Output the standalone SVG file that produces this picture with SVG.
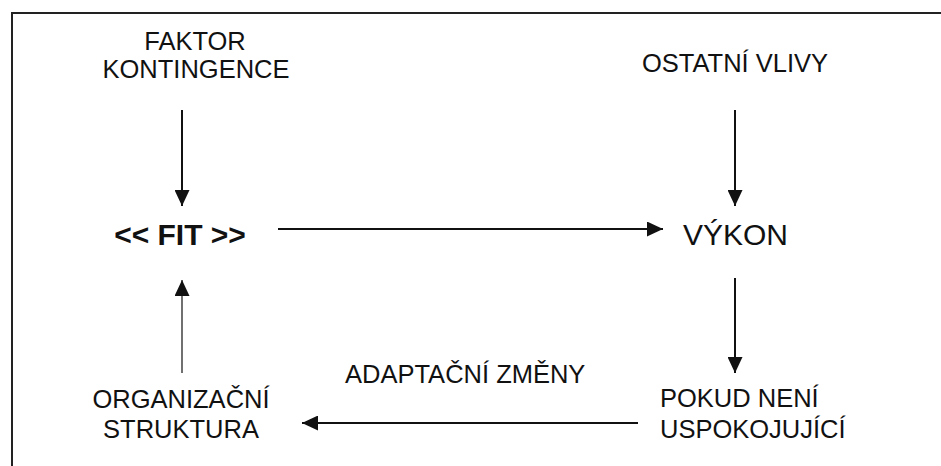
<svg xmlns="http://www.w3.org/2000/svg" width="941" height="466" viewBox="0 0 941 466">
  <style>
    .lbl { font-family: "Liberation Sans", Arial, sans-serif; font-size: 25.5px; fill: #111; }
    .big { font-family: "Liberation Sans", Arial, sans-serif; font-size: 30px; fill: #111; }
    .bold { font-weight: bold; }
    .edge { stroke: #111; stroke-width: 2; fill: none; }
    .thin { stroke-width: 1.2; }
    .frame { stroke: #222; stroke-width: 2; fill: none; }
  </style>
  <defs>
    <marker id="head" markerUnits="userSpaceOnUse" markerWidth="17" markerHeight="15" refX="16" refY="7.5" orient="auto">
      <path d="M0,0 L16,7.5 L0,15 z" fill="#111"/>
    </marker>
  </defs>
  <rect width="941" height="466" fill="#fff"/>

  <!-- open frame: top and left edges only -->
  <path class="frame" d="M12,466 L12,13 L941,13"/>

  <g id="faktor">
    <text class="lbl" x="195" y="50" text-anchor="middle">FAKTOR</text>
    <text class="lbl" x="196" y="78" text-anchor="middle">KONTINGENCE</text>
  </g>
  <g id="ostatni">
    <text class="lbl" x="735" y="72" text-anchor="middle">OSTATNÍ VLIVY</text>
  </g>
  <g id="fit">
    <text class="big bold" x="180" y="245" text-anchor="middle">&lt;&lt; FIT &gt;&gt;</text>
  </g>
  <g id="vykon">
    <text class="big" x="683" y="245">VÝKON</text>
  </g>
  <g id="pokud">
    <text class="lbl" x="660" y="407">POKUD NENÍ</text>
    <text class="lbl" x="660" y="438">USPOKOJUJÍCÍ</text>
  </g>
  <g id="organizacni">
    <text class="lbl" x="181" y="408" text-anchor="middle">ORGANIZAČNÍ</text>
    <text class="lbl" x="181" y="438" text-anchor="middle">STRUKTURA</text>
  </g>
  <g id="adaptacni">
    <text class="lbl" x="345" y="383">ADAPTAČNÍ ZMĚNY</text>
  </g>

  <g id="connectors">
    <line class="edge" x1="182" y1="110" x2="182" y2="206" marker-end="url(#head)"/>
    <line class="edge" x1="735" y1="110" x2="735" y2="206" marker-end="url(#head)"/>
    <line class="edge" x1="278" y1="229" x2="663" y2="229" marker-end="url(#head)"/>
    <line class="edge" x1="735" y1="278" x2="735" y2="373" marker-end="url(#head)"/>
    <line class="edge" x1="638" y1="423" x2="302" y2="423" marker-end="url(#head)"/>
    <line class="edge thin" x1="182" y1="373" x2="182" y2="280" marker-end="url(#head)"/>
  </g>
</svg>
